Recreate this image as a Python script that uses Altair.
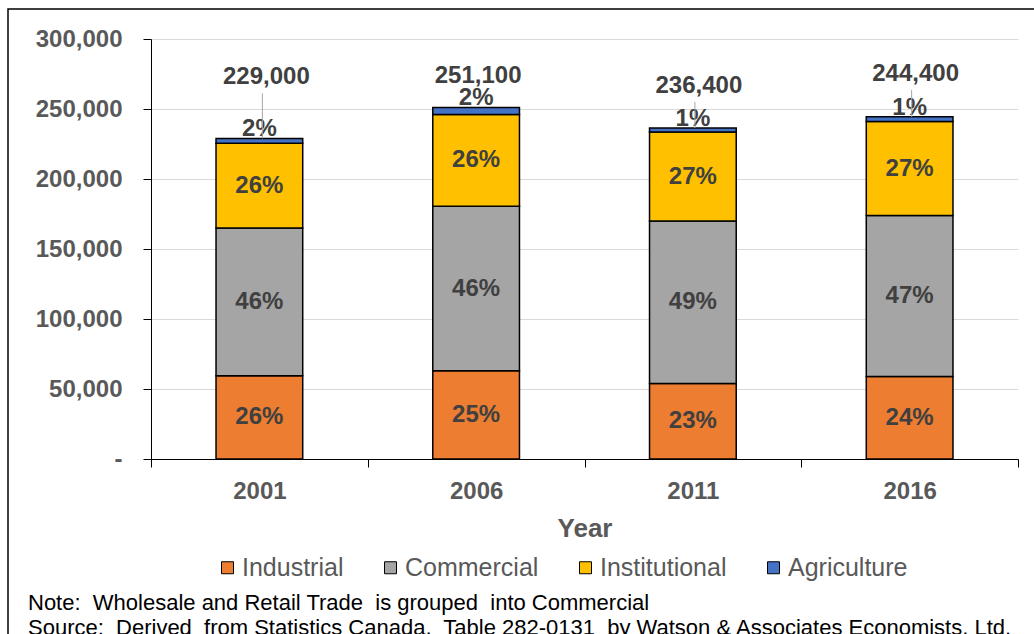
import altair as alt
import pandas as pd

# ---------------- data ----------------
years = ["2001", "2006", "2011", "2016"]
categories = ["Industrial", "Commercial", "Institutional", "Agriculture"]

industrial = [59500, 63000, 54000, 59000]
commercial = [105500, 117500, 116000, 115000]
institutional = [60500, 65500, 63500, 67000]
agriculture = [3500, 5100, 2900, 3400]
totals = [229000, 251100, 236400, 244400]

industrial_pct = ["26%", "25%", "23%", "24%"]
commercial_pct = ["46%", "46%", "49%", "47%"]
institutional_pct = ["26%", "26%", "27%", "27%"]
agriculture_pct = ["2%", "2%", "1%", "1%"]
total_labels = ["229,000", "251,100", "236,400", "244,400"]

notes = [
    "Note:\u00a0 Wholesale and Retail Trade\u00a0 is grouped\u00a0 into Commercial",
    "Source:\u00a0 Derived\u00a0 from Statistics Canada,\u00a0 Table 282-0131\u00a0 by Watson & Associates Economists, Ltd.",
]

# ---------------- style ----------------
FONT = "Liberation Sans"
colors = ["#ED7D31", "#A5A5A5", "#FFC000", "#4472C4"]
LABEL_GREY = "#595959"
TEXT_DARK = "#404040"
TOTAL_LIFT = {"2001": 54, "2006": 24, "2011": 35, "2016": 36}
TOTAL_DX = {"2001": 7, "2006": 2, "2011": 6, "2016": 6}

# ---------------- tables ----------------
series = [industrial, commercial, institutional, agriculture]
pcts = [industrial_pct, commercial_pct, institutional_pct, agriculture_pct]
rows = []
for ci, cat in enumerate(categories):
    for yi, yr in enumerate(years):
        rows.append({"year": yr, "category": cat, "value": series[ci][yi],
                     "label": pcts[ci][yi], "order": ci})
df = pd.DataFrame(rows)
tot_df = pd.DataFrame({"year": years, "total": totals, "label": total_labels})

x_enc = alt.X(
    "year:N",
    sort=years,
    scale=alt.Scale(domain=years, paddingInner=0, paddingOuter=0),
    axis=alt.Axis(
        title="Year",
        tickBand="extent",
        labelAngle=0,
        labelPadding=12,
        titlePadding=12,
        domainColor="black",
        tickColor="black",
        tickSize=8,
        labelFontSize=24,
        labelFontWeight="bold",
        labelColor=LABEL_GREY,
        titleFontSize=26,
        titleFontWeight="bold",
        titleColor=LABEL_GREY,
        grid=False,
    ),
)
y_scale = alt.Scale(domain=[0, 300000], nice=False, zero=True)
y_axis = alt.Axis(
    title=None,
    values=[0, 50000, 100000, 150000, 200000, 250000, 300000],
    labelExpr="datum.value == 0 ? '-\u2003' : format(datum.value, ',')",
    grid=True,
    gridColor="#D9D9D9",
    gridWidth=1,
    domainColor="black",
    tickColor="black",
    tickSize=8,
    labelPadding=21,
    labelFontSize=24,
    labelFontWeight="bold",
    labelColor=LABEL_GREY,
)

bars = alt.Chart(df).mark_bar(
    width=alt.RelativeBandSize(0.4), stroke="black", strokeWidth=1.5
).encode(
    x=x_enc,
    y=alt.Y("value:Q", stack="zero", scale=y_scale, axis=y_axis),
    color=alt.Color(
        "category:N",
        scale=alt.Scale(domain=categories, range=colors),
        legend=alt.Legend(
            title=None,
            orient="none",
            legendX=64,
            legendY=516,
            direction="horizontal",
            symbolType="square",
            symbolSize=144,
            symbolStrokeColor="black",
            symbolStrokeWidth=1,
            labelFontSize=25,
            labelColor=LABEL_GREY,
            labelOffset=2,
            columnPadding=34,
            padding=0,
        ),
    ),
    order=alt.Order("order:Q", sort="ascending"),
)

stacked = alt.Chart(df).transform_stack(
    stack="value", groupby=["year"], as_=["v0", "v1"],
    sort=[alt.SortField("order", order="ascending")],
).transform_calculate(mid="(datum.v0 + datum.v1) / 2")

inner_text = stacked.transform_filter("datum.category != 'Agriculture'").mark_text(
    font=FONT, fontSize=24, fontWeight="bold", color=TEXT_DARK, baseline="middle"
).encode(x=alt.X("year:N", sort=years), y=alt.Y("mid:Q"), text="label:N")

agri_text = stacked.transform_filter("datum.category == 'Agriculture'").mark_text(
    font=FONT, fontSize=24, fontWeight="bold", color=TEXT_DARK,
    baseline="alphabetic", dy=-2
).encode(x=alt.X("year:N", sort=years), y=alt.Y("v1:Q"), text="label:N")

layers = [bars, inner_text, agri_text]

for yr in years:
    lift = TOTAL_LIFT[yr]
    dx = TOTAL_DX[yr]
    base = alt.Chart(tot_df).transform_filter(f"datum.year == '{yr}'")
    if lift > 30:
        layers.append(
            base.mark_rule(color="#A6A6A6", strokeWidth=1, xOffset=dx - 4,
                           y2Offset=-(lift - 9)).encode(
                x=alt.X("year:N", sort=years),
                y=alt.Y("total:Q"),
                y2=alt.Y2("total:Q"),
            )
        )
    layers.append(
        base.mark_text(font=FONT, fontSize=24, fontWeight="bold", color=TEXT_DARK,
                       baseline="alphabetic", dy=-lift, dx=dx).encode(
            x=alt.X("year:N", sort=years), y=alt.Y("total:Q"), text="label:N"
        )
    )

for i, line in enumerate(notes):
    layers.append(
        alt.Chart(pd.DataFrame({"t": [line]})).mark_text(
            font=FONT, fontSize=22, color="black", align="left", baseline="middle"
        ).encode(x=alt.value(-123), y=alt.value(564 + 25 * i), text="t:N")
    )

# outer frame of the figure
layers.append(
    alt.Chart(pd.DataFrame({"f": [0]})).mark_rect(
        fillOpacity=0, stroke="black", strokeWidth=1.5
    ).encode(x=alt.value(-143), x2=alt.value(900), y=alt.value(-30), y2=alt.value(620))
)

chart = alt.layer(*layers).properties(
    width=867,
    height=420,
    autosize=alt.AutoSizeParams(type="none"),
    padding={"left": 151, "top": 39, "right": 16, "bottom": 175},
).configure(font=FONT).configure_view(stroke=None)

chart.save("out.html", embed_options={"renderer": "svg", "actions": False})
